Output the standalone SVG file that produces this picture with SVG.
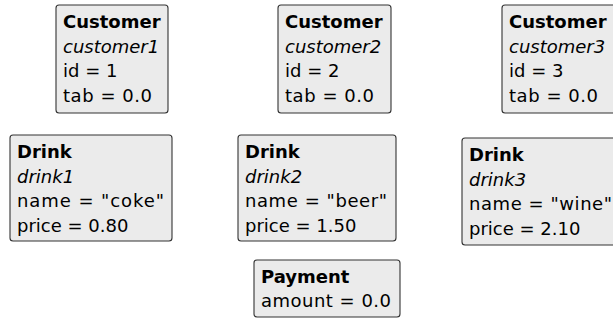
<svg xmlns="http://www.w3.org/2000/svg" width="613" height="320" viewBox="0 0 613 320">
<style>
.box{fill:#ebebeb;stroke:#333;stroke-width:1.1}
text{font-family:"DejaVu Sans",sans-serif;font-size:18px;fill:#000}
.b{font-weight:bold}
.i{font-style:italic}
</style>
<rect width="613" height="320" fill="#fff"/>
<g id="customer1">
<rect class="box" x="56" y="5" width="112" height="108" rx="3"/>
<text x="63" y="28" class="b">Customer</text>
<text x="63" y="52.5" class="i">customer1</text>
<text x="63" y="77">id = 1</text>
<text x="63" y="101.5" textLength="89" lengthAdjust="spacing">tab = 0.0</text>
</g>
<g id="customer2">
<rect class="box" x="278" y="5" width="113" height="108" rx="3"/>
<text x="285" y="28" class="b">Customer</text>
<text x="285" y="52.5" class="i">customer2</text>
<text x="285" y="77">id = 2</text>
<text x="285" y="101.5" textLength="89" lengthAdjust="spacing">tab = 0.0</text>
</g>
<g id="customer3">
<rect class="box" x="502" y="5" width="114" height="108" rx="3"/>
<text x="509" y="28" class="b">Customer</text>
<text x="509" y="52.5" class="i">customer3</text>
<text x="509" y="77">id = 3</text>
<text x="509" y="101.5" textLength="89" lengthAdjust="spacing">tab = 0.0</text>
</g>
<g id="drink1">
<rect class="box" x="10" y="135" width="162" height="106" rx="3"/>
<text x="17" y="158" class="b">Drink</text>
<text x="17" y="182.5" class="i">drink1</text>
<text x="17" y="207" textLength="147" lengthAdjust="spacing">name = "coke"</text>
<text x="17" y="231.5">price = 0.80</text>
</g>
<g id="drink2">
<rect class="box" x="238" y="135" width="158" height="106" rx="3"/>
<text x="245" y="158" class="b">Drink</text>
<text x="245" y="182.5" class="i">drink2</text>
<text x="245" y="207" textLength="142" lengthAdjust="spacing">name = "beer"</text>
<text x="245" y="231.5">price = 1.50</text>
</g>
<g id="drink3">
<rect class="box" x="462" y="138" width="160" height="107" rx="3"/>
<text x="469" y="161" class="b">Drink</text>
<text x="469" y="185.5" class="i">drink3</text>
<text x="469" y="210" textLength="143" lengthAdjust="spacing">name = "wine"</text>
<text x="469" y="234.5">price = 2.10</text>
</g>
<g id="payment">
<rect class="box" x="254" y="260" width="146" height="57" rx="3"/>
<text x="261" y="283" class="b">Payment</text>
<text x="261" y="307" textLength="130" lengthAdjust="spacing">amount = 0.0</text>
</g>
<g id="connectors"></g>
</svg>
